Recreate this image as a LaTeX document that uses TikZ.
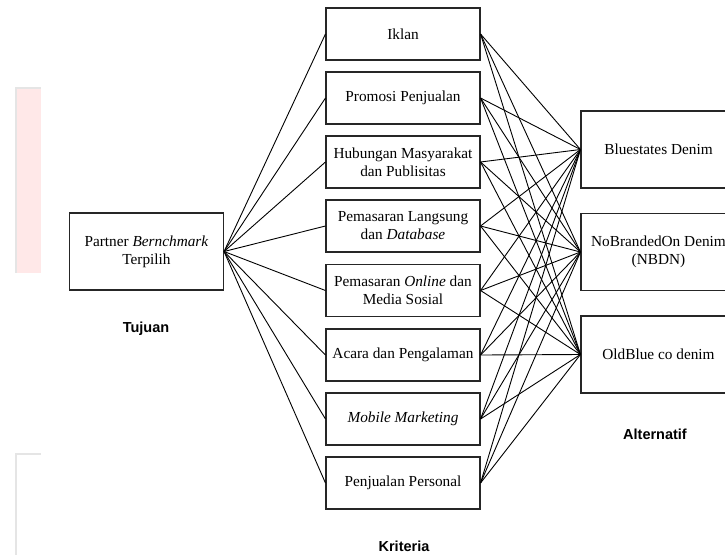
\documentclass[tikz,border=0pt]{standalone}
\usepackage{fontspec}
\setmainfont{Liberation Serif}
\newfontfamily\labfont{Liberation Sans}
\begin{document}
\begin{tikzpicture}[x=1pt,y=-1pt,
  box/.style={draw=black!85,line width=1.1pt,align=center,inner sep=0pt,
    font=\fontsize{15.3}{18}\selectfont},
  mid/.style={box,minimum width=154pt,minimum height=52pt},
  big/.style={box,minimum width=154pt,minimum height=77pt},
  conn/.style={draw=black,line width=0.9pt},
  lab/.style={font=\labfont\bfseries\fontsize{14.5}{17}\selectfont}]
\useasboundingbox (0,0) rectangle (725,555);
\clip (0,0) rectangle (725,555);
% faint scan artifacts at left
\fill[red!9] (15,88) rectangle (41,273);
\draw[black!10,line width=1.5pt] (16,273) -- (16,88) -- (41,88);
\draw[black!10,line width=1.5pt] (16,555) -- (16,454) -- (41,454);
% goal
\node[big] (goal) at (146.5,251.5) {Partner \textit{Bernchmark}\\Terpilih};
% criteria
\node[mid] (c1) at (403,34) {Iklan};
\node[mid] (c2) at (403,98) {Promosi Penjualan};
\node[mid] (c3) at (403,162) {Hubungan Masyarakat\\dan Publisitas};
\node[mid] (c4) at (403,226) {Pemasaran Langsung\\dan \textit{Database}};
\node[mid] (c5) at (403,290.5) {Pemasaran \textit{Online} dan\\Media Sosial};
\node[mid] (c6) at (403,355) {Acara dan Pengalaman};
\node[mid] (c7) at (403,419) {\textit{Mobile Marketing}};
\node[mid] (c8) at (403,483) {Penjualan Personal};
% alternatives
\node[big,minimum width=155pt] (a1) at (658.5,149.5) {Bluestates Denim};
\node[big,minimum width=155pt] (a2) at (658.5,252) {NoBrandedOn Denim\\(NBDN)};
\node[big,minimum width=155pt] (a3) at (658.5,354.5) {OldBlue co denim};
% connectors
\foreach \c in {c1,c2,c3,c4,c5,c6,c7,c8}{
  \draw[conn] (goal.east) -- (\c.west);
  \foreach \a in {a1,a2,a3}{
    \draw[conn] (\c.east) -- (\a.west);
  }
}
% labels
\node[lab] (tujuan) at (146,329) {Tujuan};
\node[lab] (alt) at (655,434) {Alternatif};
\node[lab] (krit) at (404,546) {Kriteria};
\end{tikzpicture}
\end{document}
